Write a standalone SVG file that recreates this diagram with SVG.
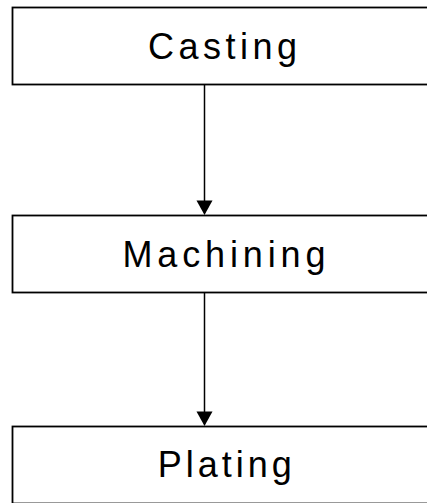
<svg xmlns="http://www.w3.org/2000/svg" width="427" height="503" viewBox="0 0 427 503">
  <defs>
    <style>
      .box { fill: #ffffff; stroke: #000000; stroke-width: 1.8; }
      .label { font-family: "Liberation Sans", Arial, sans-serif; font-size: 36px; fill: #000000; text-anchor: middle; }
      .conn { stroke: #000000; stroke-width: 1.5; fill: none; }
      .head { fill: #000000; stroke: none; }
    </style>
  </defs>
  <rect width="427" height="503" fill="#ffffff"/>

  <g id="node-casting">
    <rect class="box" x="12.5" y="7.5" width="423" height="77"/>
    <text class="label" x="222.5" y="58.5" textLength="149" lengthAdjust="spacing">Casting</text>
  </g>

  <g id="node-machining">
    <rect class="box" x="12.5" y="215.5" width="423" height="77"/>
    <text class="label" x="224" y="267" textLength="203" lengthAdjust="spacing">Machining</text>
  </g>

  <g id="node-plating">
    <rect class="box" x="12.5" y="426.5" width="423" height="77"/>
    <text class="label" x="224.7" y="477" textLength="134" lengthAdjust="spacing">Plating</text>
  </g>

  <g id="connectors">
    <line class="conn" x1="204.5" y1="84.5" x2="204.5" y2="202"/>
    <polygon class="head" points="196.5,200.5 212.5,200.5 204.5,215"/>
    <line class="conn" x1="204.5" y1="292.5" x2="204.5" y2="413"/>
    <polygon class="head" points="196.5,411.5 212.5,411.5 204.5,426"/>
  </g>
</svg>
